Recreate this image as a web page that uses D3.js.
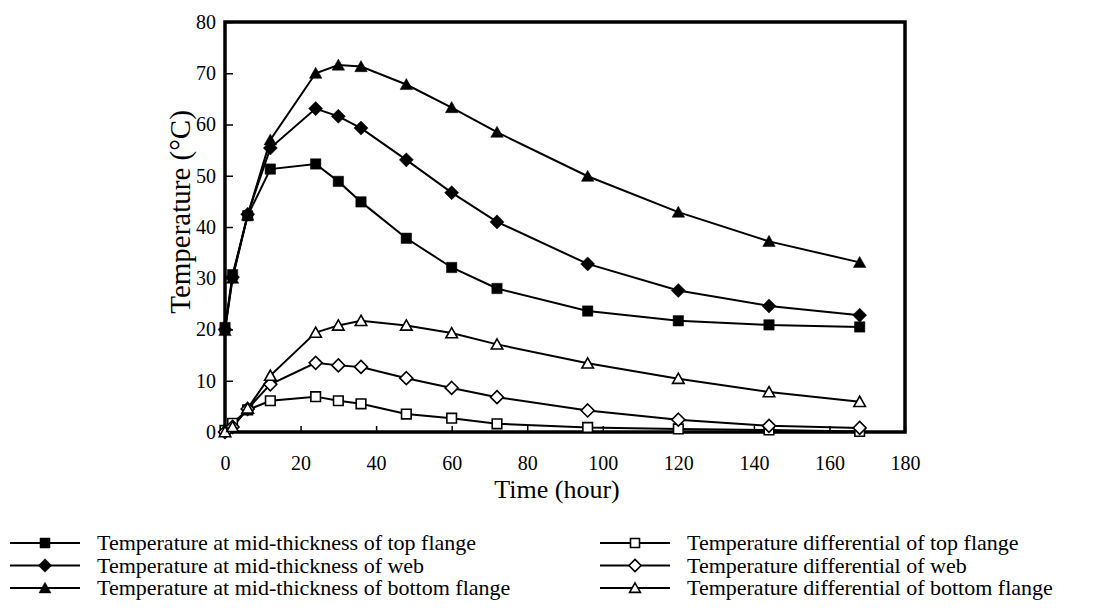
<!DOCTYPE html>
<html>
<head>
<meta charset="utf-8">
<script src="https://cdn.jsdelivr.net/npm/d3@7"></script>
<style>
    body { margin: 0; background: #fff; }
    svg { display: block; }
    text { font-family: "Liberation Serif", "Times New Roman", serif; fill: #000; }
</style>
</head>
<body>
<svg id="chart" width="1104" height="612"></svg>
<script>
// data
var hours = [0, 2, 6, 12, 24, 30, 36, 48, 60, 72, 96, 120, 144, 168];
var topMid    = [20.4, 30.7, 42.2, 51.3, 52.3, 48.9, 44.9, 37.8, 32.1, 28.0, 23.6, 21.7, 20.9, 20.5];
var webMid    = [20.0, 30.2, 42.5, 55.4, 63.1, 61.6, 59.3, 53.1, 46.7, 41.0, 32.8, 27.6, 24.6, 22.8];
var botMid    = [19.8, 30.0, 42.3, 57.0, 70.0, 71.6, 71.3, 67.8, 63.3, 58.5, 49.9, 42.9, 37.2, 33.1];
var topDiff   = [0.3, 1.7, 4.3, 6.1, 6.9, 6.1, 5.5, 3.5, 2.7, 1.6, 0.9, 0.6, 0.4, 0.1];
var webDiff   = [0.0, 1.0, 4.5, 9.3, 13.5, 13.0, 12.7, 10.5, 8.6, 6.8, 4.2, 2.4, 1.2, 0.8];
var botDiff   = [0.0, 1.0, 4.6, 11.0, 19.4, 20.8, 21.7, 20.8, 19.3, 17.1, 13.4, 10.4, 7.8, 5.9];

var seriesNames = [
    "Temperature at mid-thickness of top flange",
    "Temperature at mid-thickness of web",
    "Temperature at mid-thickness of bottom flange",
    "Temperature differential of top flange",
    "Temperature differential of web",
    "Temperature differential of bottom flange"
];
var seriesValues = [topMid, webMid, botMid, topDiff, webDiff, botDiff];
var seriesShapes = ["square", "diamond", "triangle", "square", "diamond", "triangle"];
var seriesFilled = [true, true, true, false, false, false];

var xTicks = [0, 20, 40, 60, 80, 100, 120, 140, 160, 180];
var yTicks = [0, 10, 20, 30, 40, 50, 60, 70, 80];

// margins
var T = 22;
var L = 225;
var R = 199;
var B = 180;
var W = 1104;
var H = 612;

var svg = d3.select("#chart");

var x = d3.scaleLinear().domain([0, 180]).range([L, W - R]);
var y = d3.scaleLinear().domain([0, 80]).range([H - B, T]);

// marker paths centred on 0,0
function markerPath(shape, s) {
    if (shape == "square") {
        return "M" + (-s) + "," + (-s) + "H" + s + "V" + s + "H" + (-s) + "Z";
    }
    if (shape == "diamond") {
        var d = s * 1.35;
        return "M0," + (-d) + "L" + d + ",0L0," + d + "L" + (-d) + ",0Z";
    }
    var h = s * 1.15;
    return "M0," + (-h) + "L" + (s * 1.2) + "," + (h * 0.85) + "L" + (-s * 1.2) + "," + (h * 0.85) + "Z";
}

// axes
var gx = svg.append("g")
    .attr("class", "x-axis axis")
    .attr("transform", "translate(0," + (H - B) + ")")
    .call(d3.axisBottom(x).tickValues(xTicks).tickSizeInner(-6).tickSizeOuter(0).tickPadding(24));
var gy = svg.append("g")
    .attr("class", "y-axis axis")
    .attr("transform", "translate(" + L + ",0)")
    .call(d3.axisLeft(y).tickValues(yTicks).tickSizeInner(-8).tickSizeOuter(0).tickPadding(9));

svg.selectAll(".axis .domain").remove();
svg.selectAll(".axis line").attr("stroke", "#000").attr("stroke-width", 1.5);
svg.selectAll(".axis text")
    .attr("font-size", 20)
    .style("font-family", '"Liberation Serif", serif');

// frame
svg.append("rect")
    .attr("x", x(0))
    .attr("y", y(80))
    .attr("width", x(180) - x(0))
    .attr("height", y(0) - y(80))
    .attr("fill", "none")
    .attr("stroke", "#000")
    .attr("stroke-width", 3.5);

// lines and markers
var line = d3.line()
    .x(function(d, i) { return x(hours[i]); })
    .y(function(d) { return y(d); });

var gData = svg.append("g").attr("class", "data");

seriesValues.forEach(function(vals, k) {
    gData.append("path")
        .attr("d", line(vals))
        .attr("fill", "none")
        .attr("stroke", "#000")
        .attr("stroke-width", 2);
});

seriesValues.forEach(function(vals, k) {
    gData.selectAll(".m" + k)
        .data(vals)
        .enter()
        .append("path")
        .attr("class", "m" + k)
        .attr("transform", function(d, i) {
            return "translate(" + x(hours[i]) + "," + y(d) + ")";
        })
        .attr("d", markerPath(seriesShapes[k], seriesFilled[k] ? 5.2 : 4.8))
        .attr("fill", seriesFilled[k] ? "#000" : "#fff")
        .attr("stroke", "#000")
        .attr("stroke-width", seriesFilled[k] ? 0.5 : 1.6);
});

// titles
svg.append("text")
    .attr("x", 557)
    .attr("y", 498)
    .attr("text-anchor", "middle")
    .attr("font-size", 26)
    .text("Time (hour)");

svg.append("text")
    .attr("transform", "translate(190,212) rotate(-90)")
    .attr("text-anchor", "middle")
    .attr("font-size", 29)
    .text("Temperature (\u00B0C)");

// legend
var legend = svg.append("g").attr("class", "legend");
var legX = [10, 600];
var legY = [543, 565.5, 588];

seriesNames.forEach(function(name, k) {
    var col = Math.floor(k / 3);
    var row = k % 3;
    var g = legend.append("g")
        .attr("transform", "translate(" + legX[col] + "," + legY[row] + ")");
    g.append("line")
        .attr("x1", 0).attr("x2", 70)
        .attr("stroke", "#000")
        .attr("stroke-width", 2);
    g.append("path")
        .attr("transform", "translate(35,0)")
        .attr("d", markerPath(seriesShapes[k], seriesFilled[k] ? 5 : 4.5))
        .attr("fill", seriesFilled[k] ? "#000" : "#fff")
        .attr("stroke", "#000")
        .attr("stroke-width", seriesFilled[k] ? 0.5 : 1.6);
    g.append("text")
        .attr("x", 87)
        .attr("y", 7)
        .attr("font-size", 22)
        .text(name);
});
</script>
</body>
</html>
